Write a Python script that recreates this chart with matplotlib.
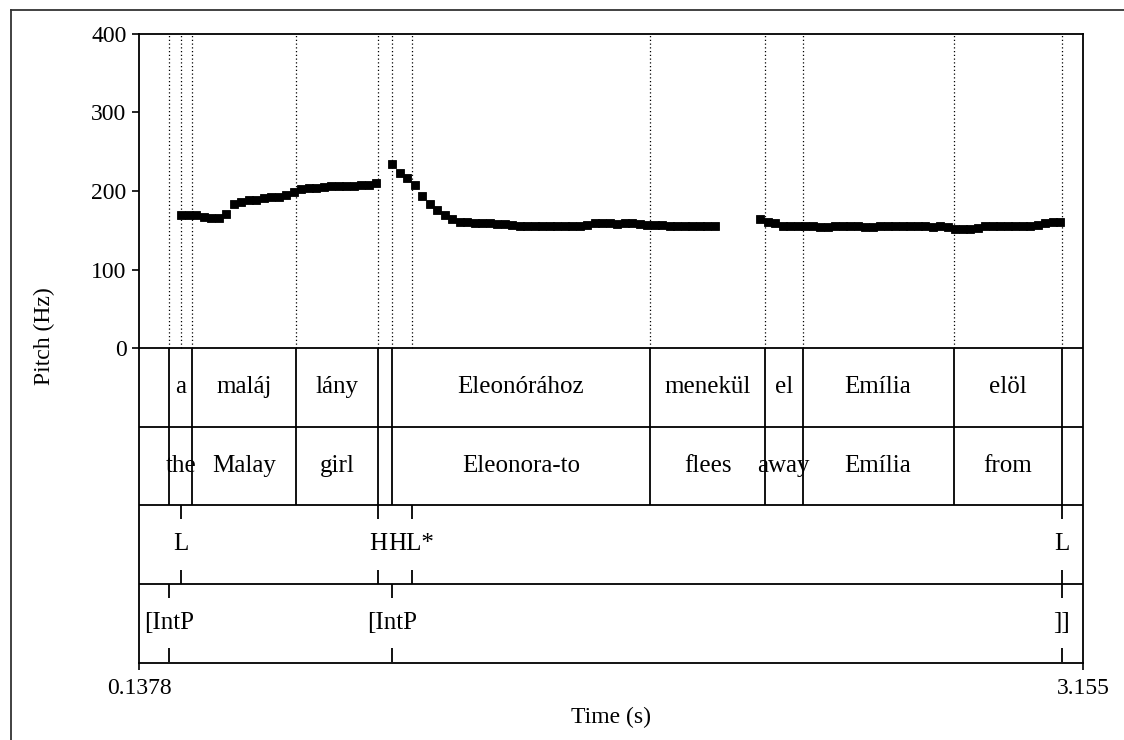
"""Praat-style pitch track with a four-tier annotation (words, gloss, tones, breaks)."""
import matplotlib
matplotlib.use("Agg")
import matplotlib.pyplot as plt
import numpy as np
from matplotlib.lines import Line2D

plt.rcParams["font.family"] = ["Liberation Serif", "DejaVu Serif"]

# time window of the drawing (s)
T_START = 0.1378
T_END = 3.155

# pitch analysis, one value every FRAME_STEP seconds, three voiced stretches
FRAME_STEP = 0.024
seg1_start = 0.2720
seg1_hz = [170, 170, 169, 167, 166, 166, 171, 183, 186, 188, 189, 191, 192, 193,
           195, 199, 203, 204, 204, 205, 206, 207, 207, 207, 208, 208, 210]
seg2_start = 0.9464
seg2_hz = [234, 223, 217, 208, 194, 183, 176, 169, 164, 161, 160, 159, 159, 159,
           158, 158, 157, 156, 156, 156, 155, 155, 155, 155, 155, 156, 157, 159,
           159, 159, 158, 159, 159, 158, 157, 157, 157, 156, 156, 156, 156, 156,
           156, 156]
seg3_start = 2.1225
seg3_hz = [164, 160, 159, 155, 155, 155, 155, 155, 154, 154, 155, 156, 155, 155,
           154, 154, 155, 156, 156, 155, 155, 155, 155, 154, 155, 154, 152, 152,
           152, 153, 155, 156, 156, 155, 155, 156, 156, 157, 159, 160, 160]

# tier 1 / 2: interval tiers sharing the same boundaries
word_bounds = [0.2337, 0.3081, 0.6396, 0.9026, 0.9454, 1.7709, 2.1384, 2.2583,
               2.7409, 3.0876]
word_labels = ["", "a", "maláj", "lány", "", "Eleonórához", "menekül", "el",
               "Emília", "elöl", ""]
gloss_labels = ["", "the", "Malay", "girl", "", "Eleonora-to", "flees", "away",
                "Emília", "from", ""]

# tier 3 / 4: point tiers
tone_times = [0.2720, 0.9026, 1.0087, 3.0876]
tone_labels = ["L", "H", "HL*", "L"]
break_times = [0.2337, 0.9454, 3.0876]
break_labels = ["[IntP", "[IntP", "]]"]

TIER_H = 100.0  # each tier is as tall as 100 Hz of the pitch panel
TXT = 18

fig = plt.figure(figsize=(11.24, 7.40), dpi=100)
ax = fig.add_axes([0.1237, 0.1041, 0.8399, 0.85])
ax.set_xlim(T_START, T_END)
ax.set_ylim(-4 * TIER_H - 1, 400)

# pitch points
for start, hz in [(seg1_start, seg1_hz), (seg2_start, seg2_hz), (seg3_start, seg3_hz)]:
    t = start + FRAME_STEP * np.arange(len(hz))
    ax.plot(t, hz, "s", color="black", ms=5.6, mec="black", mew=0.6, zorder=3)

# dotted garnish lines in the pitch panel for every tier mark
marks = sorted(set(word_bounds) | set(tone_times) | set(break_times))
ax.vlines(marks, 0, 400, colors="black", linestyles=(0, (1, 2)), lw=0.9)

# tier separators
ax.hlines([0, -TIER_H, -2 * TIER_H, -3 * TIER_H], T_START, T_END,
          colors="black", lw=1.3)

# interval tiers
ax.vlines(word_bounds, -2 * TIER_H, 0, colors="black", lw=1.3)
edges = [T_START] + word_bounds + [T_END]
for row, labels in enumerate([word_labels, gloss_labels]):
    yc = -(row + 0.5) * TIER_H
    for a, b, lab in zip(edges[:-1], edges[1:], labels):
        if lab:
            ax.text((a + b) / 2, yc, lab, ha="center", va="center", fontsize=TXT)

# point tiers: short ticks at top and bottom, label in the middle
tick = 0.18 * TIER_H
for row, (times, labels) in enumerate([(tone_times, tone_labels),
                                       (break_times, break_labels)], start=2):
    top = -row * TIER_H
    bot = -(row + 1) * TIER_H
    ax.vlines(times, top - tick, top, colors="black", lw=1.3)
    ax.vlines(times, bot, bot + tick, colors="black", lw=1.3)
    for t, lab in zip(times, labels):
        ax.text(t, (top + bot) / 2, lab, ha="center", va="center", fontsize=TXT)

# axes styling
for sp in ax.spines.values():
    sp.set_linewidth(1.3)
ax.set_yticks([0, 100, 200, 300, 400])
ax.set_xticks([T_START, T_END])
ax.set_xticklabels(["0.1378", "3.155"])
ax.tick_params(axis="both", direction="out", length=5, width=1.2,
               labelsize=17, pad=4)
ax.tick_params(axis="x", pad=6)
ax.text(-0.1, 0.52, "Pitch (Hz)", transform=ax.transAxes, rotation=90,
        ha="center", va="center", fontsize=17)
ax.text(0.5, -0.087, "Time (s)", transform=ax.transAxes,
        ha="center", va="center", fontsize=17)

# outer picture frame (open at right and bottom)
fig.add_artist(Line2D([11 / 1124, 1], [1 - 10 / 740, 1 - 10 / 740],
                      transform=fig.transFigure, color="#333333", lw=1.3))
fig.add_artist(Line2D([11 / 1124, 11 / 1124], [0, 1 - 10 / 740],
                      transform=fig.transFigure, color="#333333", lw=1.3))

fig.savefig("out.png", dpi=100)
